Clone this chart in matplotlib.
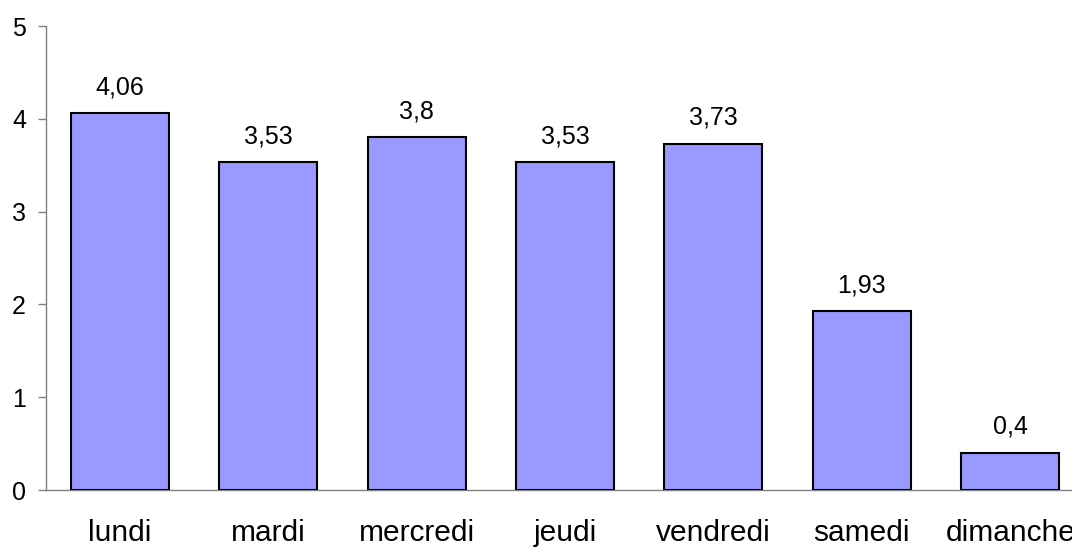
import matplotlib
matplotlib.use("Agg")
import matplotlib.pyplot as plt

jours = ["lundi", "mardi", "mercredi", "jeudi", "vendredi", "samedi", "dimanche"]
valeurs = [4.06, 3.53, 3.8, 3.53, 3.73, 1.93, 0.4]
etiquettes = ["4,06", "3,53", "3,8", "3,53", "3,73", "1,93", "0,4"]

plt.rcParams["font.family"] = ["Liberation Sans", "DejaVu Sans"]

fig = plt.figure(figsize=(10.72, 5.51), dpi=100)
ax = fig.add_axes([45.5 / 1072, 61 / 551, 1039 / 1072, 464 / 551])

x = list(range(len(jours)))
bars = ax.bar(x, valeurs, width=0.66, color="#9999FF", edgecolor="black", linewidth=1.5, zorder=3)

for b, lab in zip(bars, etiquettes):
    ax.annotate(lab, (b.get_x() + b.get_width() / 2, b.get_height()),
                xytext=(0, 10), textcoords="offset points",
                ha="center", va="bottom", fontsize=18)

ax.set_xlim(-0.5, len(jours) - 0.5)
ax.set_ylim(0, 5)
ax.set_yticks([0, 1, 2, 3, 4, 5])
ax.set_xticks(x)
ax.set_xticklabels(jours, fontsize=21.5)
ax.tick_params(axis="x", length=0, pad=21)
ax.tick_params(axis="y", length=6, width=1, color="#808080", labelsize=18, pad=8)

for s in ["top", "right"]:
    ax.spines[s].set_visible(False)
ax.spines["left"].set_color("#808080")
ax.spines["bottom"].set_color("#808080")
ax.spines["left"].set_linewidth(1)
ax.spines["bottom"].set_linewidth(1)

fig.savefig("out.png", dpi=100)
